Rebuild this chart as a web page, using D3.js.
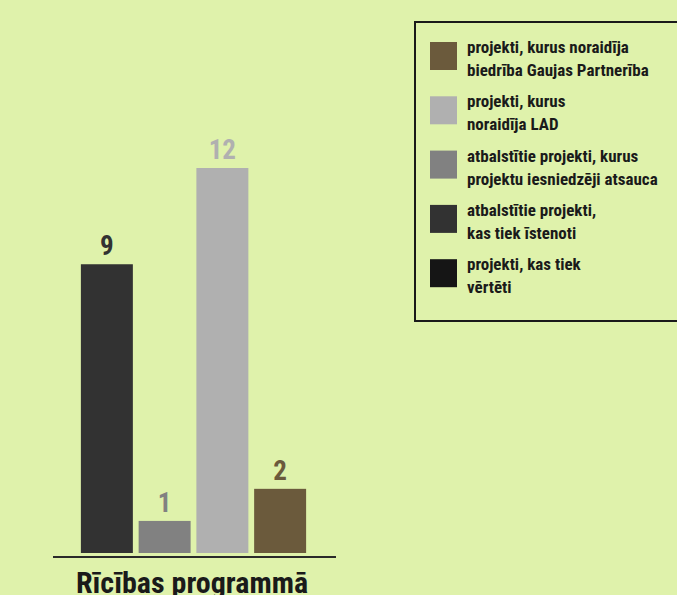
<!DOCTYPE html>
<html>
<head>
<meta charset="utf-8">
<script src="https://cdn.jsdelivr.net/npm/d3@7"></script>
<style>
  html, body { margin: 0; padding: 0; background: #dff2ab; }
  svg { display: block; font-family: "Roboto Condensed", "Roboto", sans-serif; font-stretch: condensed; font-weight: bold; }
</style>
</head>
<body>
<div class="chart"></div>
<script>
// series shown in the legend, in legend order
const seriesNames = [
  'projekti, kurus noraidīja\nbiedrība Gaujas Partnerība',
  'projekti, kurus\nnoraidīja LAD',
  'atbalstītie projekti, kurus\nprojektu iesniedzēji atsauca',
  'atbalstītie projekti,\nkas tiek īstenoti',
  'projekti, kas tiek\nvērtēti'
]
const seriesColors = ['#6b5a3c', '#b0b0b0', '#818181', '#323232', '#151515']
const seriesValues = [2, 12, 1, 9, 0]

// bar order left to right (indexes into the series)
const barOrder = [3, 2, 1, 0, 4]
const category = 'Rīcības programmā'

const width = 677, height = 595

const svg = d3.select('.chart')
.append('svg')
.attr('width', width)
.attr('height', height)

const bars = barOrder
.map(i => ({ name: seriesNames[i], value: seriesValues[i], color: seriesColors[i] }))
.filter(d => d.value > 0)

const x = d3.scaleBand()
.domain(bars.map(d => d.name))
.range([78, 309])
.paddingInner(0.1)
.paddingOuter(0.05)

const y = d3.scaleLinear()
.domain([0, 12])
.range([553, 168])

svg.selectAll('rect.bar')
.data(bars)
.enter()
.append('rect')
.attr('class', 'bar')
.attr('x', d => x(d.name))
.attr('width', x.bandwidth())
.attr('y', d => y(d.value))
.attr('height', d => y(0) - y(d.value))
.attr('fill', d => d.color)

svg.selectAll('text.val')
.data(bars)
.enter()
.append('text')
.attr('class', 'val')
.attr('x', d => x(d.name) + x.bandwidth() / 2)
.attr('y', d => y(d.value) - 9)
.attr('text-anchor', 'middle')
.attr('font-size', 27)
.attr('fill', d => d.color)
.text(d => d.value)

// baseline
svg.append('line')
.attr('x1', 53).attr('x2', 336)
.attr('y1', 557).attr('y2', 557)
.attr('stroke', '#2a2a2a')
.attr('stroke-width', 2)

svg.append('text')
.attr('x', 192)
.attr('y', 593)
.attr('text-anchor', 'middle')
.attr('font-size', 30)
.attr('fill', '#1a1a1a')
.text(category)

// legend
const legend = svg.append('g')

legend.append('rect')
.attr('x', 415).attr('y', 22)
.attr('width', 270).attr('height', 299)
.attr('fill', 'none')
.attr('stroke', '#1a1a1a')
.attr('stroke-width', 2)

const rows = legend.selectAll('g.row')
.data(seriesNames.map((n, i) => ({ name: n, color: seriesColors[i] })))
.enter()
.append('g')
.attr('class', 'row')
.attr('transform', (d, i) => `translate(430, ${42 + i * 54.3})`)

rows.append('rect')
.attr('width', 27)
.attr('height', 28)
.attr('fill', d => d.color)

rows.append('text')
.attr('font-size', 17)
.attr('fill', '#1a1a1a')
.selectAll('tspan')
.data(d => d.name.split('\n'))
.enter()
.append('tspan')
.attr('x', 37)
.attr('y', (d, i) => 11 + i * 23)
.text(d => d)
</script>
</body>
</html>
